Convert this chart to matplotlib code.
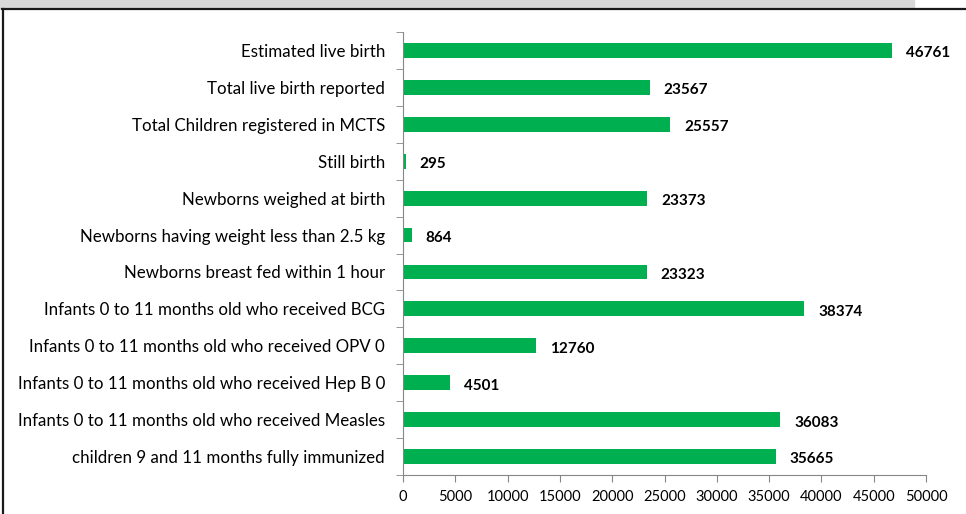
import numpy as np
import matplotlib.pyplot as plt
from matplotlib.patches import Rectangle
from matplotlib.lines import Line2D

categories = [
    "Estimated live birth",
    "Total live birth reported",
    "Total Children registered in MCTS",
    "Still birth",
    "Newborns weighed at birth",
    "Newborns having weight less than 2.5 kg",
    "Newborns breast fed within 1 hour",
    "Infants 0 to 11 months old who received BCG",
    "Infants 0 to 11 months old who received OPV 0",
    "Infants 0 to 11 months old who received Hep B 0",
    "Infants 0 to 11 months old who received Measles",
    "children 9 and 11 months fully immunized",
]
values = [46761, 23567, 25557, 295, 23373, 864, 23323, 38374, 12760, 4501, 36083, 35665]
xticks = [0, 5000, 10000, 15000, 20000, 25000, 30000, 35000, 40000, 45000, 50000]

plt.rcParams['font.family'] = ['Lato', 'DejaVu Sans']

W, H = 966, 514
fig = plt.figure(figsize=(W / 100, H / 100), dpi=100)
# grey band at top and frame
fig.patches.append(Rectangle((0, 1 - 8 / H), 914 / W, 8 / H,
                             transform=fig.transFigure, color='#d9d9d9', zorder=0))
fig.lines.append(Line2D([2 / W, 1], [1 - 9 / H, 1 - 9 / H],
                        transform=fig.transFigure, color='#1a1a1a', lw=1.6))
fig.lines.append(Line2D([3 / W, 3 / W], [0, 1 - 9 / H],
                        transform=fig.transFigure, color='#1a1a1a', lw=1.6))

ax = fig.add_axes([403 / W, 1 - 475 / H, (926 - 403) / W, (475 - 32) / H])
y = np.arange(len(categories))
ax.barh(y, values, height=0.4, color='#00b050')
ax.set_ylim(len(categories) - 0.5, -0.5)
ax.set_xlim(0, 50000)
ax.set_xticks(xticks)
ax.set_xticklabels([str(t) for t in xticks], fontsize=10.5)
ax.set_yticks(y)
ax.set_yticklabels(categories, fontsize=12.2)
ax.set_yticks(np.arange(len(categories) + 1) - 0.5, minor=True)
ax.tick_params(axis='y', which='major', length=0, pad=13)
ax.tick_params(axis='y', which='minor', length=5, color='#868686', direction='out')
ax.tick_params(axis='x', length=5, color='#868686', direction='out', pad=6)
for s in ['top', 'right']:
    ax.spines[s].set_visible(False)
for s in ['left', 'bottom']:
    ax.spines[s].set_color('#868686')

for yi, v in zip(y, values):
    ax.text(v + 1300, yi + 0.08, str(v), va='center', ha='left',
            fontsize=11, fontweight='bold')

fig.savefig('out.png', dpi=100)
